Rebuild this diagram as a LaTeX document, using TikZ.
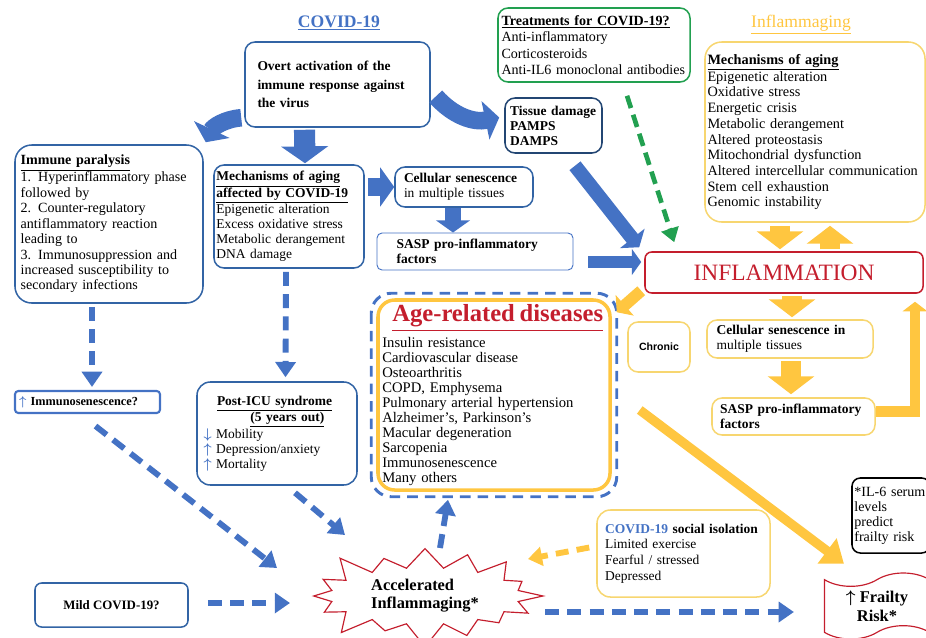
\documentclass[tikz,border=0pt]{standalone}
\usepackage{fontspec}
\setmainfont{Liberation Serif}
\setsansfont{Liberation Sans}
\usepackage{amsmath}
\usetikzlibrary{arrows.meta,shapes.symbols}

\definecolor{covblue}{RGB}{68,114,196}
\definecolor{boxblue}{RGB}{50,100,165}
\definecolor{infyellow}{RGB}{255,198,64}
\definecolor{paleyellow}{RGB}{247,214,112}
\definecolor{infred}{RGB}{196,30,45}
\definecolor{trgreen}{RGB}{34,160,80}

\newcommand{\blueup}{\textcolor{covblue}{$\boldsymbol{\uparrow}$}}
\newcommand{\bluedown}{\textcolor{covblue}{$\boldsymbol{\downarrow}$}}

\begin{document}
\begin{tikzpicture}[x=0.03cm,y=-0.03cm,
  every node/.style={font=\fontsize{12}{12.8}\selectfont,inner sep=2pt},
  boldtext/.style={font=\fontsize{11.5}{12.8}\selectfont\bfseries},
  box/.style={rounded corners=3mm,line width=1.3pt,align=left},
  bluebox/.style={box,draw=boxblue},
  yellowbox/.style={box,draw=paleyellow},
  bigblue/.style={covblue,-{Triangle[width=0pt 2.2,length=0pt 0.8]}},
  bigyellow/.style={infyellow,-{Triangle[width=0pt 2.3,length=0pt 0.9]}},
  dashblue/.style={covblue,line width=5pt,dash pattern=on 12pt off 7pt,-{Triangle[width=17pt,length=13pt]}}]
  \useasboundingbox (0,0) rectangle (926,637);

  \node[font=\fontsize{15}{17}\selectfont\bfseries,text=covblue] (covtitle) at (339,23) {\underline{COVID-19}};
  \node[font=\fontsize{15}{17}\selectfont,text=infyellow] (inftitle) at (801,25) {\underline{Inflammaging}};

  \node[bluebox,minimum width=55.5mm,minimum height=25.5mm,text width=48mm,font=\fontsize{11.5}{16}\selectfont\bfseries] (overt) at (337.5,84.5) {Overt activation of the\\immune response against\\the virus};
  \node[box,draw=trgreen,inner sep=1pt,minimum width=57.6mm,minimum height=22.2mm,text width=55.5mm,font=\fontsize{12}{14}\selectfont] (treat) at (594,45) {\textbf{\underline{Treatments for COVID-19?}}\\Anti-inflammatory\\Corticosteroids\\Anti-IL6 monoclonal antibodies};
  \node[yellowbox,rounded corners=5mm,inner sep=1pt,minimum width=66mm,minimum height=54mm,text width=64.5mm,font=\fontsize{12.2}{13.4}\selectfont] (mech) at (815,132) {\textbf{\underline{Mechanisms of aging}}\\Epigenetic alteration\\Oxidative stress\\Energetic crisis\\Metabolic derangement\\Altered proteostasis\\Mitochondrial dysfunction\\Altered intercellular communication\\Stem cell exhaustion\\Genomic instability};
  \node[box,boldtext,draw=boxblue!70!black,minimum width=29.1mm,minimum height=16.5mm,text width=26mm] (tissue) at (553.5,125.5) {Tissue damage\\PAMPS\\DAMPS};

  \node[bluebox,rounded corners=5mm,minimum width=56.4mm,minimum height=47.4mm,text width=53mm,font=\fontsize{12}{13.2}\selectfont] (immpar) at (109,224) {\textbf{\underline{Immune paralysis}}\\1. Hyperinflammatory phase\\followed by\\2. Counter-regulatory\\antiflammatory reaction\\leading to\\3. Immunosuppression and\\increased susceptibility to\\secondary infections};
  \node[bluebox,minimum width=45mm,minimum height=30.9mm,text width=43.5mm,inner sep=1pt,font=\fontsize{11.5}{12.8}\selectfont] (mechcov) at (289,216.5) {\textbf{\underline{Mechanisms of aging}}\\\textbf{\underline{affected by COVID-19}}\\Epigenetic alteration\\Excess oxidative stress\\Metabolic derangement\\DNA damage};
  \node[bluebox,minimum width=41.4mm,minimum height=12mm,text width=36mm,font=\fontsize{11.5}{12.8}\selectfont] (cellsen) at (464,187) {\textbf{Cellular senescence}\\in multiple tissues};
  \node[box,boldtext,draw=covblue,line width=0.8pt,rounded corners=1.5mm,minimum width=58.8mm,minimum height=11.1mm,text width=47mm] (sasp) at (475,251.5) {SASP pro-inflammatory\\factors};

  \node[box,draw=infred,rounded corners=2mm,minimum width=83.4mm,minimum height=12.3mm,align=center,font=\fontsize{20}{22}\selectfont,text=infred] (inflam) at (784,272.5) {INFLAMMATION};
  \node[yellowbox,minimum width=18.6mm,minimum height=15mm,font=\sffamily\bfseries\fontsize{9}{11}\selectfont] (chronic) at (659,347) {Chronic};
  \node[yellowbox,minimum width=49.8mm,minimum height=11.4mm,text width=44mm,font=\fontsize{11.5}{12.8}\selectfont] (cellsen2) at (790,339) {\textbf{Cellular senescence in}\\multiple tissues};
  \node[yellowbox,boldtext,minimum width=48.9mm,minimum height=11.1mm,text width=44mm] (sasp2) at (793.5,416.5) {SASP pro-inflammatory\\factors};

  \node[box,draw=infyellow,line width=3pt,rounded corners=5mm,minimum width=69.6mm,minimum height=57mm,text width=67mm,font=\fontsize{12.5}{12.8}\selectfont] (agebox) at (494,395) {\hspace*{3mm}{\fontsize{21}{22}\selectfont\bfseries\textcolor{infred}{\underline{Age-related diseases}}}\\[4pt]Insulin resistance\\Cardiovascular disease\\Osteoarthritis\\COPD, Emphysema\\Pulmonary arterial hypertension\\Alzheimer's, Parkinson's\\Macular degeneration\\Sarcopenia\\Immunosenescence\\Many others};
  \draw[covblue,line width=2.5pt,dash pattern=on 9pt off 6pt,rounded corners=6mm] ([shift={(-5,-5)}]agebox.north west) rectangle ([shift={(5,5)}]agebox.south east);

  \node[box,draw=covblue,line width=1.8pt,rounded corners=1mm,minimum width=43.5mm,minimum height=6.6mm,text width=41mm,font=\fontsize{10.5}{12}\selectfont\bfseries] (immsen) at (87.5,402) {\blueup\ Immunosenescence?};
  \node[bluebox,rounded corners=4mm,minimum width=48mm,minimum height=30.9mm,text width=44mm,font=\fontsize{11.5}{12.8}\selectfont] (posticu) at (277,433.5) {\hspace*{4mm}\textbf{\underline{Post-ICU syndrome}}\\\hspace*{14mm}\textbf{\underline{(5 years out)}}\\\bluedown\ Mobility\\\blueup\ Depression/anxiety\\\blueup\ Mortality};
  \node[box,draw=boxblue,rounded corners=2mm,minimum width=45.9mm,minimum height=13.2mm,font=\fontsize{11}{13}\selectfont\bfseries] (mild) at (111.5,605) {Mild COVID-19?};

  \node[starburst,draw=infred,line width=1pt,fill=white,minimum width=73mm,minimum height=33mm,starburst points=16,starburst point height=8mm,align=left,font=\fontsize{14}{15.5}\selectfont\bfseries] (burst) at (425,596) {Accelerated\\Inflammaging*};
  \node[yellowbox,rounded corners=4mm,minimum width=51.9mm,minimum height=26.1mm,text width=47mm,font=\fontsize{11.5}{13.5}\selectfont] (social) at (683.5,553.5) {\textbf{\textcolor{covblue}{COVID-19} social isolation}\\Limited exercise\\Fearful / stressed\\Depressed};
  \node[box,draw=black,rounded corners=2.5mm,minimum width=23.4mm,minimum height=22.5mm,text width=22mm] (il6) at (891,515.5) {*IL-6 serum\\levels\\predict\\frailty risk};
  \node[tape,draw=infred,line width=1pt,minimum width=31.5mm,minimum height=19.8mm,tape bend height=4mm,align=center,font=\fontsize{14}{16}\selectfont\bfseries] (frail) at (877,606) {$\boldsymbol{\uparrow}$ Frailty\\Risk*};

  \draw[bigblue,line width=15pt] ([shift={(-3,-10)}]overt.south west) to[bend right=30] ([shift={(2,-2)}]immpar.north east);
  \draw[bigblue,line width=18pt] ([shift={(-33,2)}]overt.south) -- ([shift={(16,-1)}]mechcov.north);
  \draw[bigblue,line width=15pt] ([shift={(5,12)}]overt.east) to[bend right=30] ([shift={(-5,-8)}]tissue.west);
  \draw[bigblue,line width=15pt] ([shift={(3,-29.5)}]mechcov.east) -- (cellsen.west);
  \draw[bigblue,line width=13pt] ([shift={(-11,0)}]cellsen.south) -- ([shift={(-22,0)}]sasp.north);
  \draw[bigblue,line width=12pt] ([shift={(21.5,12)}]tissue.south) -- ([shift={(-5,-4)}]inflam.north west);
  \draw[bigblue,line width=10pt] ([shift={(15,10.5)}]sasp.east) -- ([shift={(-3,-10.5)}]inflam.west);
  \draw[trgreen,line width=4pt,dash pattern=on 11pt off 6pt,-{Triangle[width=15pt,length=12pt]}] ([shift={(33,13)}]treat.south) -- ([shift={(30,-9)}]inflam.north west);

  \draw[bigyellow,line width=17pt] ([shift={(-35,3)}]mech.south) -- ([shift={(-4,-2)}]inflam.north);
  \draw[bigyellow,line width=17pt] ([shift={(46,-2)}]inflam.north) -- ([shift={(15,3)}]mech.south);
  \draw[bigyellow,line width=17pt] ([shift={(8,2)}]inflam.south) -- ([shift={(2,-2)}]cellsen2.north);
  \draw[bigyellow,line width=17pt] ([shift={(1,2)}]cellsen2.south) -- ([shift={(-2.5,-3)}]sasp2.north);
  \draw[bigyellow,line width=9pt] ([shift={(0,-5)}]sasp2.east) -| ([shift={(131,8)}]inflam.south);
  \draw[bigyellow,line width=10pt] ([shift={(-3,-3)}]inflam.south west) -- ([shift={(5,14)}]agebox.north east);
  \draw[infyellow,line width=8pt,-{Triangle[width=26pt,length=18pt]}] ([shift={(28,15)}]agebox.east) -- ([shift={(20,-15)}]frail.north west);

  \draw[dashblue] ([shift={(-17,3)}]immpar.south) -- ([shift={(4.5,-3)}]immsen.north);
  \draw[dashblue] ([shift={(-3,3)}]mechcov.south) -- ([shift={(8.5,-4)}]posticu.north);
  \draw[dashblue] ([shift={(8,12)}]immsen.south) -- ([shift={(-148,-28)}]burst.center);
  \draw[dashblue] ([shift={(18,7)}]posticu.south) -- ([shift={(-80,-61)}]burst.center);
  \draw[dashblue] ([shift={(19,-2)}]mild.east) -- ([shift={(-135,7)}]burst.center);
  \draw[dashblue] ([shift={(15,-48)}]burst.center) -- ([shift={(-46,8)}]agebox.south);
  \draw[dashblue] ([shift={(120,16)}]burst.center) -- ([shift={(-30,6)}]frail.west);
  \draw[infyellow,line width=5pt,dash pattern=on 11pt off 7pt,-{Triangle[width=16pt,length=12pt]}] ([shift={(-7,-6)}]social.west) -- ([shift={(103,-37)}]burst.center);
\end{tikzpicture}
\end{document}
